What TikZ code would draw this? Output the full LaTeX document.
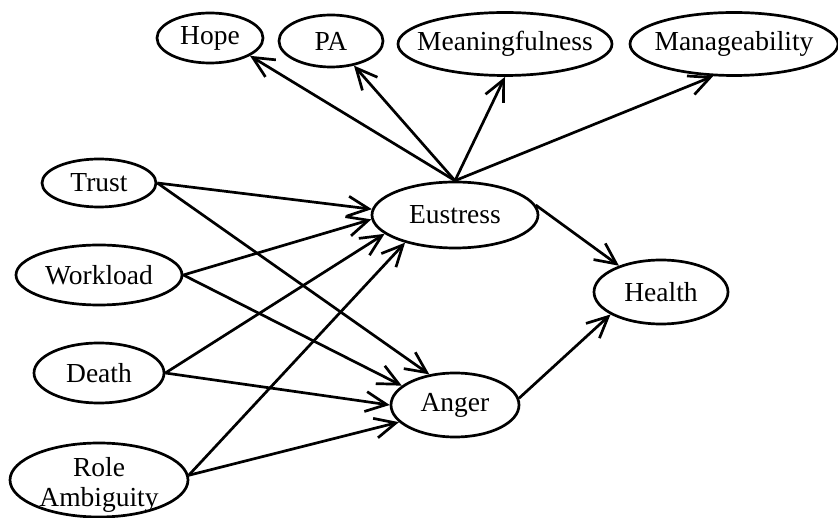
\documentclass[tikz,border=0pt]{standalone}
\usepackage{fontspec}
\setmainfont{Liberation Serif}
\usetikzlibrary{shapes.geometric,arrows.meta}
% zero-width label so the ellipse size is set by minimum width/height only
\newcommand{\lbl}[1]{\makebox[0pt]{#1}}
\begin{document}
\begin{tikzpicture}[x=1pt,y=-1pt,
  var/.style={draw,ellipse,line width=2.7pt,inner sep=0pt,
    font=\fontsize{27.5}{30}\selectfont},
  path/.style={line width=2.7pt,-{Straight Barb[length=21pt,width=20pt]}}]
\useasboundingbox (0,0) rectangle (838,518);
\begin{scope}
\clip (0,0) rectangle (838,518);
% latent variables, top row
\node[var,minimum width=106pt,minimum height=50pt] (hope) at (210,38) {\lbl{Hope}};
\node[var,minimum width=104pt,minimum height=52pt] (pa) at (331,41) {\lbl{PA}};
\node[var,minimum width=214pt,minimum height=63pt] (mean) at (505,44) {\lbl{Meaningfulness}};
\node[var,minimum width=208pt,minimum height=63pt] (mana) at (734,44) {\lbl{Manageability}};
% predictors
\node[var,minimum width=114pt,minimum height=48pt] (trust) at (99,183) {\lbl{Trust}};
\node[var,minimum width=166pt,minimum height=60pt] (work) at (99,275) {\lbl{Workload}};
\node[var,minimum width=130pt,minimum height=60pt] (death) at (99,373) {\lbl{Death}};
\node[var,minimum width=178pt,minimum height=74pt] (role) at (99,480)
  {\lbl{\raisebox{-12pt}[0pt][0pt]{\begin{tabular}{@{}c@{}}Role\\Ambiguity\end{tabular}}}};
% mediators and outcome
\node[var,minimum width=166pt,minimum height=66pt] (eus) at (455,215) {\lbl{Eustress}};
\node[var,minimum width=128pt,minimum height=64pt] (ang) at (455,405) {\lbl{Anger}};
\node[var,minimum width=134pt,minimum height=64pt] (hea) at (661,292) {\lbl{Health}};
% paths
\draw[path] (eus.north) -- (hope.-24);
\draw[path] (eus.north) -- (pa.-47);
\draw[path] (eus.north) -- (mean.-90);
\draw[path] (eus.north) -- (mana.-123);
\draw[path] (trust.east) -- (eus.176);
\draw[path] (trust.east) -- (ang.130);
\draw[path] (work.east) -- (eus.183);
\draw[path] (work.east) -- (ang.160);
\draw[path] (death.east) -- (eus.195);
\draw[path] (death.east) -- (ang.180);
\draw[path] (role.3) -- (eus.209);
\draw[path] (role.3) -- (ang.197);
\draw[path] (eus.7) -- (hea.148);
\draw[path] (ang.6) -- (hea.204);
\end{scope}
\end{tikzpicture}
\end{document}
